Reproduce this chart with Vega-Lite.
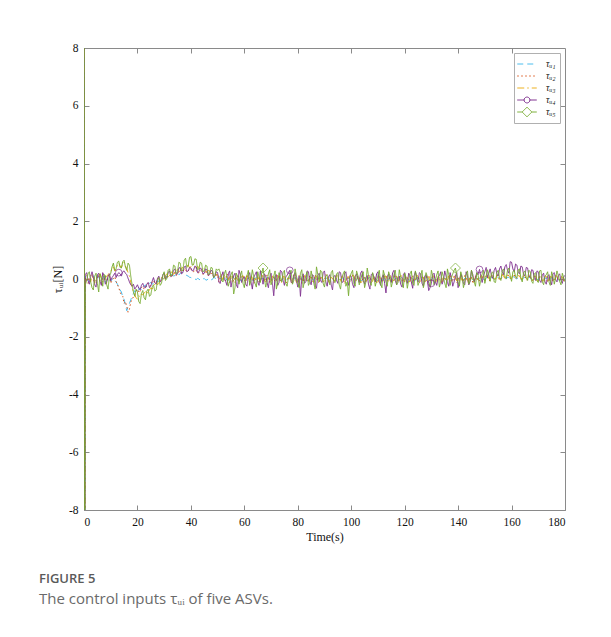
{
  "$schema": "https://vega.github.io/schema/vega-lite/v6.json",
  "width": 481,
  "height": 462,
  "autosize": "none",
  "padding": {"left": 84, "top": 48, "right": 46, "bottom": 127},
  "background": "white",
  "config": {
    "view": {"stroke": "#8a8a8a", "strokeWidth": 1},
    "font": "Liberation Serif",
    "axis": {"labelFont": "Liberation Serif", "titleFont": "Liberation Serif"}
  },
  "title": {
    "text": "FIGURE 5",
    "subtitle": "The control inputs τᵤᵢ of five ASVs.",
    "orient": "bottom",
    "anchor": "start",
    "frame": "group",
    "dx": -45,
    "offset": 30,
    "font": "Open Sans",
    "fontSize": 13,
    "fontWeight": 600,
    "color": "#5a5a5a",
    "subtitleFont": "Open Sans",
    "subtitleFontSize": 15,
    "subtitleColor": "#6a6a6a",
    "subtitlePadding": 6
  },
  "data": {
    "values": [
      {"t":0,"u1":30,"u2":30,"u3":30,"u4":30,"u5":30},
      {"t":0.25,"u1":-15,"u2":-15,"u3":-15,"u4":-15,"u5":-15},
      {"t":0.5,"u1":0.10,"u2":0.05,"u3":-0.12,"u4":0.15,"u5":-0.20},
      {"t":1,"u1":0.05,"u2":-0.08,"u3":0.12,"u4":0.22,"u5":-0.05},
      {"t":1.5,"u1":-0.06,"u2":-0.15,"u3":0.05,"u4":-0.05,"u5":0.18},
      {"t":2,"u1":-0.10,"u2":0.06,"u3":-0.05,"u4":-0.18,"u5":0.25},
      {"t":2.5,"u1":0.02,"u2":0.12,"u3":-0.10,"u4":0.08,"u5":-0.10},
      {"t":3,"u1":0.08,"u2":0.15,"u3":0.10,"u4":0.25,"u5":-0.30},
      {"t":3.5,"u1":0.12,"u2":-0.02,"u3":0.16,"u4":0.05,"u5":-0.38},
      {"t":4,"u1":-0.04,"u2":-0.12,"u3":-0.14,"u4":-0.20,"u5":0.10},
      {"t":4.5,"u1":-0.08,"u2":-0.05,"u3":-0.02,"u4":-0.28,"u5":0.20},
      {"t":5,"u1":0.12,"u2":0.04,"u3":0.06,"u4":0.15,"u5":-0.15},
      {"t":5.5,"u1":0.05,"u2":0.14,"u3":0.12,"u4":0.20,"u5":-0.45},
      {"t":6,"u1":-0.06,"u2":-0.10,"u3":0.18,"u4":-0.08,"u5":0.18},
      {"t":6.5,"u1":-0.02,"u2":-0.16,"u3":0.02,"u4":-0.22,"u5":0.05},
      {"t":7,"u1":0.02,"u2":0.12,"u3":-0.10,"u4":0.22,"u5":-0.25},
      {"t":7.5,"u1":0.10,"u2":0.03,"u3":-0.04,"u4":0.12,"u5":0.15},
      {"t":8,"u1":-0.12,"u2":-0.05,"u3":0.04,"u4":-0.18,"u5":0.12},
      {"t":8.5,"u1":-0.05,"u2":-0.14,"u3":0.10,"u4":-0.10,"u5":-0.20},
      {"t":9,"u1":0.06,"u2":0.08,"u3":0.15,"u4":0.10,"u5":-0.35},
      {"t":9.5,"u1":0.02,"u2":0.16,"u3":0.22,"u4":0.18,"u5":0.10},
      {"t":10,"u1":-0.08,"u2":-0.15,"u3":0.25,"u4":-0.05,"u5":0.20},
      {"t":10.5,"u1":-0.02,"u2":-0.05,"u3":0.35,"u4":0.05,"u5":0.42},
      {"t":11,"u1":0.04,"u2":0.02,"u3":0.42,"u4":0.12,"u5":0.55},
      {"t":11.5,"u1":-0.05,"u2":0.08,"u3":0.28,"u4":0.20,"u5":0.30},
      {"t":12,"u1":-0.10,"u2":-0.08,"u3":0.30,"u4":0.05,"u5":0.35},
      {"t":12.5,"u1":-0.18,"u2":-0.20,"u3":0.48,"u4":0.15,"u5":0.58},
      {"t":13,"u1":-0.25,"u2":-0.30,"u3":0.55,"u4":0.22,"u5":0.62},
      {"t":13.5,"u1":-0.38,"u2":-0.45,"u3":0.45,"u4":0.18,"u5":0.40},
      {"t":14,"u1":-0.45,"u2":-0.55,"u3":0.40,"u4":0.10,"u5":0.38},
      {"t":14.5,"u1":-0.62,"u2":-0.60,"u3":0.52,"u4":0.25,"u5":0.60},
      {"t":15,"u1":-0.70,"u2":-0.85,"u3":0.58,"u4":0.28,"u5":0.65},
      {"t":15.5,"u1":-0.90,"u2":-0.78,"u3":0.45,"u4":0.20,"u5":0.42},
      {"t":16,"u1":-1.10,"u2":-0.95,"u3":0.35,"u4":0.15,"u5":0.30},
      {"t":16.5,"u1":-0.95,"u2":-1.15,"u3":0.22,"u4":0.02,"u5":0.55},
      {"t":17,"u1":-0.85,"u2":-1.05,"u3":0.10,"u4":-0.10,"u5":0.48},
      {"t":17.5,"u1":-0.72,"u2":-0.80,"u3":-0.12,"u4":-0.20,"u5":0.10},
      {"t":18,"u1":-0.60,"u2":-0.70,"u3":-0.30,"u4":-0.25,"u5":-0.20},
      {"t":18.5,"u1":-0.50,"u2":-0.62,"u3":-0.45,"u4":-0.18,"u5":-0.45},
      {"t":19,"u1":-0.40,"u2":-0.55,"u3":-0.55,"u4":-0.35,"u5":-0.60},
      {"t":19.5,"u1":-0.48,"u2":-0.42,"u3":-0.65,"u4":-0.28,"u5":-0.35},
      {"t":20,"u1":-0.45,"u2":-0.35,"u3":-0.70,"u4":-0.20,"u5":-0.45},
      {"t":20.5,"u1":-0.36,"u2":-0.48,"u3":-0.58,"u4":-0.32,"u5":-0.78},
      {"t":21,"u1":-0.30,"u2":-0.42,"u3":-0.62,"u4":-0.38,"u5":-0.85},
      {"t":21.5,"u1":-0.38,"u2":-0.30,"u3":-0.52,"u4":-0.22,"u5":-0.50},
      {"t":22,"u1":-0.35,"u2":-0.25,"u3":-0.55,"u4":-0.15,"u5":-0.40},
      {"t":22.5,"u1":-0.25,"u2":-0.35,"u3":-0.48,"u4":-0.28,"u5":-0.65},
      {"t":23,"u1":-0.20,"u2":-0.30,"u3":-0.45,"u4":-0.30,"u5":-0.72},
      {"t":23.5,"u1":-0.28,"u2":-0.18,"u3":-0.40,"u4":-0.18,"u5":-0.42},
      {"t":24,"u1":-0.25,"u2":-0.15,"u3":-0.50,"u4":-0.12,"u5":-0.35},
      {"t":24.5,"u1":-0.15,"u2":-0.25,"u3":-0.38,"u4":-0.30,"u5":-0.60},
      {"t":25,"u1":-0.12,"u2":-0.22,"u3":-0.30,"u4":-0.25,"u5":-0.55},
      {"t":25.5,"u1":-0.18,"u2":-0.10,"u3":-0.35,"u4":-0.08,"u5":-0.28},
      {"t":26,"u1":-0.15,"u2":-0.05,"u3":-0.25,"u4":0.05,"u5":-0.20},
      {"t":26.5,"u1":-0.08,"u2":-0.15,"u3":-0.18,"u4":-0.12,"u5":-0.42},
      {"t":27,"u1":-0.05,"u2":-0.12,"u3":-0.10,"u4":-0.18,"u5":-0.38},
      {"t":27.5,"u1":-0.10,"u2":0.00,"u3":-0.20,"u4":0.02,"u5":-0.05},
      {"t":28,"u1":-0.08,"u2":0.05,"u3":-0.15,"u4":0.10,"u5":0.05},
      {"t":28.5,"u1":0.00,"u2":-0.06,"u3":-0.02,"u4":-0.10,"u5":-0.22},
      {"t":29,"u1":0.02,"u2":-0.02,"u3":0.05,"u4":-0.05,"u5":-0.15},
      {"t":29.5,"u1":-0.02,"u2":0.08,"u3":-0.04,"u4":0.15,"u5":0.12},
      {"t":30,"u1":0.05,"u2":0.10,"u3":0.02,"u4":0.20,"u5":0.25},
      {"t":30.5,"u1":0.08,"u2":0.02,"u3":0.12,"u4":0.00,"u5":-0.05},
      {"t":31,"u1":0.10,"u2":0.05,"u3":0.18,"u4":0.05,"u5":0.02},
      {"t":31.5,"u1":0.05,"u2":0.12,"u3":0.08,"u4":0.22,"u5":0.30},
      {"t":32,"u1":0.08,"u2":0.15,"u3":0.12,"u4":0.28,"u5":0.35},
      {"t":32.5,"u1":0.14,"u2":0.06,"u3":0.22,"u4":0.08,"u5":0.10},
      {"t":33,"u1":0.15,"u2":0.10,"u3":0.25,"u4":0.12,"u5":0.15},
      {"t":33.5,"u1":0.10,"u2":0.20,"u3":0.16,"u4":0.30,"u5":0.48},
      {"t":34,"u1":0.12,"u2":0.22,"u3":0.20,"u4":0.35,"u5":0.45},
      {"t":34.5,"u1":0.18,"u2":0.12,"u3":0.30,"u4":0.14,"u5":0.18},
      {"t":35,"u1":0.20,"u2":0.18,"u3":0.32,"u4":0.18,"u5":0.25},
      {"t":35.5,"u1":0.15,"u2":0.26,"u3":0.24,"u4":0.38,"u5":0.58},
      {"t":36,"u1":0.18,"u2":0.28,"u3":0.28,"u4":0.40,"u5":0.55},
      {"t":36.5,"u1":0.24,"u2":0.20,"u3":0.38,"u4":0.18,"u5":0.28},
      {"t":37,"u1":0.22,"u2":0.25,"u3":0.40,"u4":0.22,"u5":0.30},
      {"t":37.5,"u1":0.18,"u2":0.34,"u3":0.30,"u4":0.42,"u5":0.65},
      {"t":38,"u1":0.15,"u2":0.32,"u3":0.35,"u4":0.45,"u5":0.72},
      {"t":38.5,"u1":0.12,"u2":0.24,"u3":0.46,"u4":0.25,"u5":0.40},
      {"t":39,"u1":0.10,"u2":0.28,"u3":0.48,"u4":0.28,"u5":0.45},
      {"t":39.5,"u1":0.06,"u2":0.36,"u3":0.38,"u4":0.40,"u5":0.75},
      {"t":40,"u1":0.05,"u2":0.35,"u3":0.42,"u4":0.38,"u5":0.78},
      {"t":40.5,"u1":0.03,"u2":0.26,"u3":0.52,"u4":0.28,"u5":0.48},
      {"t":41,"u1":0.02,"u2":0.25,"u3":0.50,"u4":0.30,"u5":0.50},
      {"t":41.5,"u1":0.00,"u2":0.32,"u3":0.40,"u4":0.45,"u5":0.70},
      {"t":42,"u1":-0.02,"u2":0.30,"u3":0.38,"u4":0.42,"u5":0.68},
      {"t":42.5,"u1":0.02,"u2":0.20,"u3":0.44,"u4":0.22,"u5":0.32},
      {"t":43,"u1":0.00,"u2":0.22,"u3":0.40,"u4":0.25,"u5":0.35},
      {"t":43.5,"u1":-0.04,"u2":0.30,"u3":0.32,"u4":0.38,"u5":0.58},
      {"t":44,"u1":-0.05,"u2":0.28,"u3":0.30,"u4":0.35,"u5":0.55},
      {"t":44.5,"u1":0.00,"u2":0.16,"u3":0.36,"u4":0.18,"u5":0.25},
      {"t":45,"u1":0.02,"u2":0.18,"u3":0.35,"u4":0.20,"u5":0.28},
      {"t":45.5,"u1":-0.03,"u2":0.24,"u3":0.26,"u4":0.35,"u5":0.48},
      {"t":46,"u1":-0.04,"u2":0.22,"u3":0.25,"u4":0.32,"u5":0.45},
      {"t":46.5,"u1":0.02,"u2":0.12,"u3":0.30,"u4":0.12,"u5":0.15},
      {"t":47,"u1":0.00,"u2":0.15,"u3":0.28,"u4":0.15,"u5":0.20},
      {"t":47.5,"u1":-0.03,"u2":0.20,"u3":0.18,"u4":0.30,"u5":0.40},
      {"t":48,"u1":-0.02,"u2":0.18,"u3":0.20,"u4":0.28,"u5":0.38},
      {"t":48.5,"u1":0.05,"u2":0.08,"u3":0.24,"u4":0.05,"u5":0.05},
      {"t":49,"u1":0.04,"u2":0.10,"u3":0.22,"u4":0.10,"u5":0.12},
      {"t":49.5,"u1":0.00,"u2":0.16,"u3":0.12,"u4":0.25,"u5":0.35},
      {"t":50,"u1":0.02,"u2":0.14,"u3":0.15,"u4":0.22,"u5":0.30},
      {"t":50.5,"u1":0.08,"u2":-0.10,"u3":0.05,"u4":-0.12,"u5":0.35},
      {"t":51,"u1":0.05,"u2":0.08,"u3":0.12,"u4":-0.15,"u5":0.22},
      {"t":51.5,"u1":-0.02,"u2":0.15,"u3":-0.06,"u4":0.10,"u5":-0.05},
      {"t":52,"u1":-0.03,"u2":0.12,"u3":0.05,"u4":0.25,"u5":-0.10},
      {"t":52.5,"u1":0.06,"u2":-0.04,"u3":0.14,"u4":0.02,"u5":0.18},
      {"t":53,"u1":0.04,"u2":-0.05,"u3":0.15,"u4":-0.08,"u5":0.30},
      {"t":53.5,"u1":-0.05,"u2":0.18,"u3":-0.02,"u4":-0.22,"u5":0.05},
      {"t":54,"u1":-0.06,"u2":0.10,"u3":-0.04,"u4":0.18,"u5":-0.25},
      {"t":54.5,"u1":0.03,"u2":-0.12,"u3":0.08,"u4":0.28,"u5":-0.08},
      {"t":55,"u1":0.02,"u2":0.02,"u3":0.10,"u4":-0.28,"u5":0.15},
      {"t":55.5,"u1":0.07,"u2":0.10,"u3":-0.10,"u4":-0.05,"u5":0.25},
      {"t":56,"u1":0.05,"u2":-0.08,"u3":-0.08,"u4":0.12,"u5":-0.52},
      {"t":56.5,"u1":-0.02,"u2":-0.15,"u3":0.04,"u4":0.20,"u5":-0.30},
      {"t":57,"u1":-0.04,"u2":0.06,"u3":0.06,"u4":-0.20,"u5":0.20},
      {"t":57.5,"u1":0.04,"u2":0.12,"u3":-0.05,"u4":-0.30,"u5":0.08},
      {"t":58,"u1":0.03,"u2":-0.10,"u3":-0.12,"u4":0.30,"u5":-0.18},
      {"t":58.5,"u1":-0.06,"u2":-0.02,"u3":0.02,"u4":0.15,"u5":0.12},
      {"t":59,"u1":-0.05,"u2":0.05,"u3":0.08,"u4":-0.12,"u5":0.28},
      {"t":59.5,"u1":0.02,"u2":0.14,"u3":0.12,"u4":0.02,"u5":-0.15},
      {"t":60,"u1":0.06,"u2":-0.04,"u3":-0.06,"u4":0.08,"u5":-0.30},
      {"t":60.5,"u1":0.00,"u2":-0.12,"u3":-0.14,"u4":-0.18,"u5":0.05},
      {"t":61,"u1":-0.02,"u2":0.12,"u3":0.12,"u4":-0.25,"u5":0.12},
      {"t":61.5,"u1":0.05,"u2":0.04,"u3":0.04,"u4":0.12,"u5":0.30},
      {"t":62,"u1":0.04,"u2":-0.06,"u3":-0.10,"u4":0.22,"u5":-0.22},
      {"t":62.5,"u1":-0.03,"u2":0.10,"u3":0.06,"u4":-0.10,"u5":-0.05},
      {"t":63,"u1":-0.06,"u2":0.08,"u3":0.05,"u4":-0.35,"u5":0.32},
      {"t":63.5,"u1":0.02,"u2":-0.14,"u3":-0.08,"u4":0.05,"u5":0.10},
      {"t":64,"u1":0.02,"u2":-0.12,"u3":-0.08,"u4":0.15,"u5":-0.15},
      {"t":64.5,"u1":0.06,"u2":0.06,"u3":0.12,"u4":0.25,"u5":-0.28},
      {"t":65,"u1":0.05,"u2":0.04,"u3":0.10,"u4":-0.10,"u5":0.25},
      {"t":65.5,"u1":-0.02,"u2":-0.10,"u3":-0.02,"u4":-0.22,"u5":0.08},
      {"t":66,"u1":-0.04,"u2":-0.08,"u3":-0.05,"u4":0.28,"u5":-0.12},
      {"t":66.5,"u1":0.02,"u2":0.12,"u3":0.06,"u4":0.08,"u5":0.20},
      {"t":67,"u1":0.03,"u2":0.10,"u3":0.08,"u4":-0.18,"u5":0.38},
      {"t":67.5,"u1":-0.04,"u2":-0.06,"u3":-0.06,"u4":0.18,"u5":0.02},
      {"t":68,"u1":-0.05,"u2":-0.04,"u3":-0.10,"u4":0.10,"u5":-0.28},
      {"t":68.5,"u1":0.05,"u2":0.14,"u3":0.04,"u4":-0.12,"u5":-0.10},
      {"t":69,"u1":0.04,"u2":0.06,"u3":0.06,"u4":-0.30,"u5":0.18},
      {"t":69.5,"u1":-0.03,"u2":-0.12,"u3":-0.12,"u4":0.05,"u5":0.32},
      {"t":70,"u1":-0.02,"u2":-0.10,"u3":-0.08,"u4":0.20,"u5":-0.20},
      {"t":70.5,"u1":0.04,"u2":0.08,"u3":0.10,"u4":-0.15,"u5":-0.05},
      {"t":71,"u1":0.06,"u2":0.05,"u3":0.12,"u4":-0.58,"u5":0.10},
      {"t":71.5,"u1":0.00,"u2":-0.10,"u3":-0.02,"u4":0.10,"u5":0.28},
      {"t":72,"u1":-0.04,"u2":-0.06,"u3":-0.04,"u4":0.15,"u5":-0.35},
      {"t":72.5,"u1":0.05,"u2":0.15,"u3":0.06,"u4":-0.22,"u5":-0.12},
      {"t":73,"u1":0.02,"u2":0.12,"u3":0.08,"u4":-0.12,"u5":0.22},
      {"t":73.5,"u1":-0.05,"u2":-0.08,"u3":-0.10,"u4":0.30,"u5":0.05},
      {"t":74,"u1":-0.06,"u2":-0.05,"u3":-0.12,"u4":0.25,"u5":-0.10},
      {"t":74.5,"u1":0.03,"u2":0.10,"u3":0.08,"u4":-0.05,"u5":0.22},
      {"t":75,"u1":0.04,"u2":0.08,"u3":0.05,"u4":-0.22,"u5":0.30},
      {"t":75.5,"u1":-0.02,"u2":-0.14,"u3":-0.05,"u4":0.08,"u5":-0.15},
      {"t":76,"u1":-0.03,"u2":-0.10,"u3":-0.06,"u4":0.12,"u5":-0.25},
      {"t":76.5,"u1":0.06,"u2":0.06,"u3":0.10,"u4":0.22,"u5":0.05},
      {"t":77,"u1":0.05,"u2":0.04,"u3":0.10,"u4":0.30,"u5":0.15},
      {"t":77.5,"u1":-0.03,"u2":-0.12,"u3":-0.06,"u4":-0.10,"u5":0.30},
      {"t":78,"u1":-0.02,"u2":-0.08,"u3":-0.08,"u4":-0.15,"u5":-0.18},
      {"t":78.5,"u1":0.04,"u2":0.14,"u3":0.08,"u4":0.12,"u5":-0.05},
      {"t":79,"u1":0.03,"u2":0.10,"u3":0.04,"u4":0.22,"u5":0.35},
      {"t":79.5,"u1":-0.06,"u2":-0.02,"u3":-0.12,"u4":-0.05,"u5":0.10},
      {"t":80,"u1":-0.05,"u2":-0.04,"u3":-0.10,"u4":-0.28,"u5":-0.12},
      {"t":80.5,"u1":0.05,"u2":0.12,"u3":0.06,"u4":0.10,"u5":-0.30},
      {"t":81,"u1":0.04,"u2":0.06,"u3":0.08,"u4":-0.60,"u5":0.20},
      {"t":81.5,"u1":-0.02,"u2":-0.15,"u3":-0.04,"u4":0.05,"u5":0.32},
      {"t":82,"u1":-0.04,"u2":-0.12,"u3":-0.05,"u4":0.18,"u5":-0.30},
      {"t":82.5,"u1":0.04,"u2":0.08,"u3":0.12,"u4":-0.15,"u5":-0.08},
      {"t":83,"u1":0.02,"u2":0.05,"u3":0.12,"u4":-0.10,"u5":0.12},
      {"t":83.5,"u1":-0.05,"u2":-0.10,"u3":-0.08,"u4":0.28,"u5":0.25},
      {"t":84,"u1":-0.06,"u2":-0.06,"u3":-0.08,"u4":0.25,"u5":-0.22},
      {"t":84.5,"u1":0.06,"u2":0.12,"u3":0.04,"u4":-0.08,"u5":-0.12},
      {"t":85,"u1":0.05,"u2":0.10,"u3":0.06,"u4":-0.20,"u5":0.28},
      {"t":85.5,"u1":-0.02,"u2":-0.04,"u3":-0.10,"u4":0.15,"u5":0.05},
      {"t":86,"u1":-0.03,"u2":-0.08,"u3":-0.04,"u4":0.10,"u5":-0.15},
      {"t":86.5,"u1":0.03,"u2":0.14,"u3":0.08,"u4":-0.22,"u5":-0.35},
      {"t":87,"u1":0.04,"u2":0.04,"u3":0.10,"u4":-0.32,"u5":0.42},
      {"t":87.5,"u1":-0.04,"u2":-0.12,"u3":-0.05,"u4":0.12,"u5":0.15},
      {"t":88,"u1":-0.02,"u2":-0.10,"u3":-0.10,"u4":0.20,"u5":-0.10},
      {"t":88.5,"u1":0.05,"u2":0.06,"u3":0.06,"u4":-0.05,"u5":0.30},
      {"t":89,"u1":0.06,"u2":0.08,"u3":0.05,"u4":-0.12,"u5":0.25},
      {"t":89.5,"u1":-0.04,"u2":-0.10,"u3":-0.08,"u4":0.22,"u5":-0.15},
      {"t":90,"u1":-0.05,"u2":-0.04,"u3":-0.06,"u4":0.28,"u5":-0.28},
      {"t":90.5,"u1":0.02,"u2":0.15,"u3":0.10,"u4":-0.10,"u5":0.10},
      {"t":91,"u1":0.03,"u2":0.12,"u3":0.08,"u4":-0.25,"u5":0.15},
      {"t":91.5,"u1":-0.03,"u2":-0.08,"u3":-0.10,"u4":0.08,"u5":-0.05},
      {"t":92,"u1":-0.04,"u2":-0.06,"u3":-0.12,"u4":0.15,"u5":-0.20},
      {"t":92.5,"u1":0.04,"u2":0.08,"u3":0.04,"u4":-0.20,"u5":0.22},
      {"t":93,"u1":0.02,"u2":0.05,"u3":0.06,"u4":-0.38,"u5":0.30},
      {"t":93.5,"u1":-0.05,"u2":-0.12,"u3":-0.06,"u4":0.10,"u5":-0.08},
      {"t":94,"u1":-0.06,"u2":-0.08,"u3":-0.04,"u4":0.12,"u5":-0.12},
      {"t":94.5,"u1":0.04,"u2":0.12,"u3":0.12,"u4":-0.05,"u5":0.18},
      {"t":95,"u1":0.05,"u2":0.10,"u3":0.10,"u4":-0.15,"u5":0.22},
      {"t":95.5,"u1":-0.02,"u2":-0.06,"u3":-0.04,"u4":0.25,"u5":-0.20},
      {"t":96,"u1":-0.02,"u2":-0.05,"u3":-0.08,"u4":0.22,"u5":-0.35},
      {"t":96.5,"u1":0.03,"u2":0.10,"u3":0.08,"u4":-0.12,"u5":0.05},
      {"t":97,"u1":0.04,"u2":0.06,"u3":0.05,"u4":-0.10,"u5":0.18},
      {"t":97.5,"u1":-0.04,"u2":-0.14,"u3":-0.12,"u4":0.18,"u5":0.28},
      {"t":98,"u1":-0.05,"u2":-0.10,"u3":-0.10,"u4":0.25,"u5":-0.25},
      {"t":98.5,"u1":0.02,"u2":0.08,"u3":0.06,"u4":-0.05,"u5":-0.10},
      {"t":99,"u1":0.03,"u2":0.04,"u3":0.08,"u4":-0.22,"u5":-0.58},
      {"t":99.5,"u1":-0.02,"u2":-0.10,"u3":-0.04,"u4":0.12,"u5":0.05},
      {"t":100,"u1":-0.04,"u2":-0.06,"u3":-0.06,"u4":0.10,"u5":0.20},
      {"t":100.5,"u1":0.05,"u2":0.14,"u3":0.10,"u4":-0.18,"u5":0.30},
      {"t":101,"u1":0.06,"u2":0.12,"u3":0.12,"u4":-0.30,"u5":-0.15},
      {"t":101.5,"u1":0.00,"u2":-0.06,"u3":-0.06,"u4":0.10,"u5":-0.25},
      {"t":102,"u1":-0.02,"u2":-0.04,"u3":-0.05,"u4":0.18,"u5":0.28},
      {"t":102.5,"u1":0.05,"u2":0.10,"u3":0.08,"u4":0.02,"u5":0.12},
      {"t":103,"u1":0.04,"u2":0.08,"u3":0.06,"u4":-0.12,"u5":-0.20},
      {"t":103.5,"u1":-0.05,"u2":-0.12,"u3":-0.12,"u4":0.20,"u5":-0.05},
      {"t":104,"u1":-0.06,"u2":-0.10,"u3":-0.10,"u4":0.28,"u5":0.15},
      {"t":104.5,"u1":0.03,"u2":0.06,"u3":0.04,"u4":-0.05,"u5":0.25},
      {"t":105,"u1":0.02,"u2":0.05,"u3":0.08,"u4":-0.18,"u5":-0.30},
      {"t":105.5,"u1":-0.03,"u2":-0.10,"u3":-0.06,"u4":0.05,"u5":-0.10},
      {"t":106,"u1":-0.04,"u2":-0.06,"u3":-0.04,"u4":0.12,"u5":0.38},
      {"t":106.5,"u1":0.04,"u2":0.12,"u3":0.12,"u4":-0.20,"u5":0.10},
      {"t":107,"u1":0.05,"u2":0.10,"u3":0.10,"u4":-0.35,"u5":-0.12},
      {"t":107.5,"u1":-0.02,"u2":-0.12,"u3":-0.05,"u4":0.15,"u5":-0.22},
      {"t":108,"u1":-0.03,"u2":-0.08,"u3":-0.08,"u4":0.20,"u5":0.22},
      {"t":108.5,"u1":0.05,"u2":0.08,"u3":0.10,"u4":0.05,"u5":0.05},
      {"t":109,"u1":0.04,"u2":0.04,"u3":0.05,"u4":-0.10,"u5":-0.25},
      {"t":109.5,"u1":-0.04,"u2":-0.14,"u3":-0.10,"u4":0.18,"u5":-0.05},
      {"t":110,"u1":-0.05,"u2":-0.10,"u3":-0.12,"u4":0.25,"u5":0.12},
      {"t":110.5,"u1":0.03,"u2":0.10,"u3":0.06,"u4":-0.08,"u5":0.30},
      {"t":111,"u1":0.02,"u2":0.06,"u3":0.06,"u4":-0.22,"u5":-0.18},
      {"t":111.5,"u1":-0.05,"u2":-0.08,"u3":-0.08,"u4":0.05,"u5":-0.30},
      {"t":112,"u1":-0.04,"u2":-0.05,"u3":-0.05,"u4":0.15,"u5":0.30},
      {"t":112.5,"u1":0.04,"u2":0.12,"u3":0.10,"u4":-0.15,"u5":0.12},
      {"t":113,"u1":0.06,"u2":0.12,"u3":0.10,"u4":-0.48,"u5":-0.10},
      {"t":113.5,"u1":0.00,"u2":-0.06,"u3":-0.04,"u4":0.08,"u5":-0.25},
      {"t":114,"u1":-0.02,"u2":-0.06,"u3":-0.08,"u4":0.18,"u5":0.25},
      {"t":114.5,"u1":0.05,"u2":0.12,"u3":0.08,"u4":-0.02,"u5":0.10},
      {"t":115,"u1":0.04,"u2":0.08,"u3":0.04,"u4":-0.12,"u5":-0.28},
      {"t":115.5,"u1":-0.04,"u2":-0.10,"u3":-0.12,"u4":0.22,"u5":-0.08},
      {"t":116,"u1":-0.05,"u2":-0.04,"u3":-0.10,"u4":0.30,"u5":0.15},
      {"t":116.5,"u1":0.02,"u2":0.14,"u3":0.06,"u4":-0.05,"u5":0.30},
      {"t":117,"u1":0.03,"u2":0.10,"u3":0.08,"u4":-0.20,"u5":-0.20},
      {"t":117.5,"u1":-0.05,"u2":-0.06,"u3":-0.04,"u4":0.05,"u5":-0.12},
      {"t":118,"u1":-0.06,"u2":-0.08,"u3":-0.06,"u4":0.10,"u5":0.32},
      {"t":118.5,"u1":0.04,"u2":0.10,"u3":0.10,"u4":-0.18,"u5":0.08},
      {"t":119,"u1":0.05,"u2":0.05,"u3":0.12,"u4":-0.28,"u5":-0.12},
      {"t":119.5,"u1":-0.02,"u2":-0.12,"u3":-0.06,"u4":0.15,"u5":-0.30},
      {"t":120,"u1":-0.02,"u2":-0.10,"u3":-0.05,"u4":0.22,"u5":0.20},
      {"t":120.5,"u1":0.05,"u2":0.08,"u3":0.10,"u4":-0.02,"u5":0.05},
      {"t":121,"u1":0.04,"u2":0.06,"u3":0.06,"u4":-0.15,"u5":-0.32},
      {"t":121.5,"u1":-0.03,"u2":-0.10,"u3":-0.08,"u4":0.20,"u5":-0.05},
      {"t":122,"u1":-0.04,"u2":-0.06,"u3":-0.10,"u4":0.12,"u5":0.18},
      {"t":122.5,"u1":0.03,"u2":0.12,"u3":0.04,"u4":-0.10,"u5":0.28},
      {"t":123,"u1":0.02,"u2":0.10,"u3":0.08,"u4":-0.32,"u5":-0.15},
      {"t":123.5,"u1":-0.05,"u2":-0.08,"u3":-0.04,"u4":0.10,"u5":-0.22},
      {"t":124,"u1":-0.06,"u2":-0.04,"u3":-0.04,"u4":0.25,"u5":0.28},
      {"t":124.5,"u1":0.04,"u2":0.14,"u3":0.12,"u4":0.05,"u5":0.10},
      {"t":125,"u1":0.05,"u2":0.08,"u3":0.10,"u4":-0.10,"u5":-0.22},
      {"t":125.5,"u1":-0.02,"u2":-0.12,"u3":-0.06,"u4":0.22,"u5":-0.08},
      {"t":126,"u1":-0.03,"u2":-0.10,"u3":-0.08,"u4":0.18,"u5":0.12},
      {"t":126.5,"u1":0.05,"u2":0.06,"u3":0.08,"u4":-0.15,"u5":0.30},
      {"t":127,"u1":0.04,"u2":0.05,"u3":0.05,"u4":-0.25,"u5":-0.30},
      {"t":127.5,"u1":-0.04,"u2":-0.14,"u3":-0.10,"u4":0.10,"u5":-0.10},
      {"t":128,"u1":-0.05,"u2":-0.06,"u3":-0.12,"u4":0.15,"u5":0.22},
      {"t":128.5,"u1":0.03,"u2":0.10,"u3":0.06,"u4":-0.05,"u5":0.08},
      {"t":129,"u1":0.02,"u2":0.12,"u3":0.06,"u4":-0.40,"u5":-0.10},
      {"t":129.5,"u1":-0.03,"u2":-0.04,"u3":-0.06,"u4":-0.30,"u5":-0.28},
      {"t":130,"u1":-0.04,"u2":-0.05,"u3":-0.05,"u4":-0.15,"u5":0.30},
      {"t":130.5,"u1":0.05,"u2":0.12,"u3":0.10,"u4":0.15,"u5":0.12},
      {"t":131,"u1":0.06,"u2":0.08,"u3":0.10,"u4":0.20,"u5":-0.20},
      {"t":131.5,"u1":-0.02,"u2":-0.10,"u3":-0.04,"u4":-0.10,"u5":-0.05},
      {"t":132,"u1":-0.02,"u2":-0.08,"u3":-0.08,"u4":-0.22,"u5":0.15},
      {"t":132.5,"u1":0.05,"u2":0.10,"u3":0.10,"u4":0.05,"u5":0.28},
      {"t":133,"u1":0.04,"u2":0.04,"u3":0.04,"u4":0.12,"u5":-0.28},
      {"t":133.5,"u1":-0.04,"u2":-0.12,"u3":-0.10,"u4":0.25,"u5":-0.10},
      {"t":134,"u1":-0.05,"u2":-0.10,"u3":-0.10,"u4":-0.18,"u5":0.25},
      {"t":134.5,"u1":0.02,"u2":0.06,"u3":0.06,"u4":-0.05,"u5":0.08},
      {"t":135,"u1":0.03,"u2":0.06,"u3":0.08,"u4":0.28,"u5":-0.15},
      {"t":135.5,"u1":-0.05,"u2":-0.08,"u3":-0.06,"u4":0.10,"u5":-0.30},
      {"t":136,"u1":-0.06,"u2":-0.04,"u3":-0.06,"u4":-0.12,"u5":0.35},
      {"t":136.5,"u1":0.04,"u2":0.14,"u3":0.10,"u4":-0.25,"u5":0.15},
      {"t":137,"u1":0.05,"u2":0.10,"u3":0.12,"u4":0.22,"u5":-0.22},
      {"t":137.5,"u1":-0.02,"u2":-0.10,"u3":-0.06,"u4":0.05,"u5":0.05},
      {"t":138,"u1":-0.02,"u2":-0.06,"u3":-0.04,"u4":-0.25,"u5":0.18},
      {"t":138.5,"u1":0.05,"u2":0.10,"u3":0.08,"u4":-0.10,"u5":0.30},
      {"t":139,"u1":0.04,"u2":0.08,"u3":0.06,"u4":0.10,"u5":0.38},
      {"t":139.5,"u1":-0.03,"u2":-0.12,"u3":-0.08,"u4":0.22,"u5":0.10},
      {"t":140,"u1":-0.04,"u2":-0.05,"u3":-0.10,"u4":-0.30,"u5":-0.12},
      {"t":140.5,"u1":0.04,"u2":0.10,"u3":0.06,"u4":-0.08,"u5":-0.25},
      {"t":141,"u1":0.02,"u2":0.12,"u3":0.08,"u4":0.18,"u5":0.25},
      {"t":141.5,"u1":-0.04,"u2":-0.04,"u3":-0.06,"u4":0.05,"u5":0.10},
      {"t":142,"u1":-0.06,"u2":-0.08,"u3":-0.05,"u4":-0.15,"u5":-0.30},
      {"t":142.5,"u1":0.03,"u2":0.12,"u3":0.10,"u4":-0.20,"u5":-0.08},
      {"t":143,"u1":0.05,"u2":0.04,"u3":0.10,"u4":0.25,"u5":0.15},
      {"t":143.5,"u1":-0.02,"u2":-0.10,"u3":-0.06,"u4":0.12,"u5":0.28},
      {"t":144,"u1":-0.03,"u2":-0.10,"u3":-0.08,"u4":-0.20,"u5":-0.18},
      {"t":144.5,"u1":0.05,"u2":0.08,"u3":0.06,"u4":-0.08,"u5":-0.05},
      {"t":145,"u1":0.04,"u2":0.06,"u3":0.05,"u4":0.30,"u5":0.30},
      {"t":145.5,"u1":-0.04,"u2":-0.12,"u3":-0.10,"u4":0.15,"u5":0.08},
      {"t":146,"u1":-0.05,"u2":-0.04,"u3":-0.12,"u4":-0.10,"u5":-0.10},
      {"t":146.5,"u1":0.02,"u2":0.10,"u3":0.08,"u4":0.05,"u5":-0.25},
      {"t":147,"u1":0.03,"u2":0.10,"u3":0.06,"u4":0.22,"u5":0.22},
      {"t":147.5,"u1":-0.03,"u2":-0.08,"u3":-0.04,"u4":0.15,"u5":0.12},
      {"t":148,"u1":0.00,"u2":-0.06,"u3":-0.04,"u4":0.33,"u5":-0.25},
      {"t":148.5,"u1":0.06,"u2":0.12,"u3":0.12,"u4":0.10,"u5":-0.05},
      {"t":149,"u1":0.05,"u2":0.08,"u3":0.10,"u4":-0.12,"u5":0.18},
      {"t":149.5,"u1":-0.02,"u2":-0.02,"u3":-0.02,"u4":0.12,"u5":0.30},
      {"t":150,"u1":-0.02,"u2":-0.05,"u3":-0.06,"u4":0.25,"u5":-0.15},
      {"t":150.5,"u1":0.04,"u2":0.12,"u3":0.08,"u4":0.40,"u5":0.10},
      {"t":151,"u1":0.06,"u2":0.10,"u3":0.12,"u4":0.05,"u5":0.32},
      {"t":151.5,"u1":0.00,"u2":-0.06,"u3":0.02,"u4":0.20,"u5":0.15},
      {"t":152,"u1":0.00,"u2":-0.04,"u3":-0.02,"u4":0.35,"u5":-0.08},
      {"t":152.5,"u1":0.06,"u2":0.14,"u3":0.12,"u4":0.12,"u5":0.20},
      {"t":153,"u1":0.05,"u2":0.12,"u3":0.10,"u4":0.02,"u5":0.25},
      {"t":153.5,"u1":-0.02,"u2":0.02,"u3":0.00,"u4":0.30,"u5":-0.10},
      {"t":154,"u1":-0.02,"u2":0.00,"u3":0.00,"u4":0.40,"u5":-0.12},
      {"t":154.5,"u1":0.05,"u2":0.12,"u3":0.12,"u4":0.18,"u5":0.22},
      {"t":155,"u1":0.06,"u2":0.10,"u3":0.14,"u4":0.10,"u5":0.30},
      {"t":155.5,"u1":0.01,"u2":-0.04,"u3":0.00,"u4":0.35,"u5":0.05},
      {"t":156,"u1":0.02,"u2":-0.02,"u3":0.02,"u4":0.45,"u5":-0.05},
      {"t":156.5,"u1":0.07,"u2":0.16,"u3":0.14,"u4":0.25,"u5":0.28},
      {"t":157,"u1":0.08,"u2":0.14,"u3":0.12,"u4":0.15,"u5":0.35},
      {"t":157.5,"u1":0.02,"u2":0.00,"u3":0.02,"u4":0.42,"u5":0.10},
      {"t":158,"u1":0.00,"u2":0.02,"u3":0.04,"u4":0.50,"u5":0.02},
      {"t":158.5,"u1":0.06,"u2":0.14,"u3":0.14,"u4":0.30,"u5":0.30},
      {"t":159,"u1":0.06,"u2":0.12,"u3":0.15,"u4":0.20,"u5":0.38},
      {"t":159.5,"u1":0.01,"u2":0.02,"u3":0.04,"u4":0.60,"u5":0.12},
      {"t":160,"u1":0.02,"u2":0.00,"u3":0.02,"u4":0.58,"u5":-0.08},
      {"t":160.5,"u1":0.07,"u2":0.14,"u3":0.12,"u4":0.35,"u5":0.25},
      {"t":161,"u1":0.08,"u2":0.15,"u3":0.12,"u4":0.25,"u5":0.30},
      {"t":161.5,"u1":0.02,"u2":0.02,"u3":0.04,"u4":0.52,"u5":0.08},
      {"t":162,"u1":0.00,"u2":0.04,"u3":0.05,"u4":0.48,"u5":0.05},
      {"t":162.5,"u1":0.05,"u2":0.12,"u3":0.12,"u4":0.22,"u5":0.32},
      {"t":163,"u1":0.05,"u2":0.10,"u3":0.10,"u4":0.18,"u5":0.35},
      {"t":163.5,"u1":-0.01,"u2":0.00,"u3":0.02,"u4":0.45,"u5":0.02},
      {"t":164,"u1":-0.02,"u2":0.00,"u3":0.00,"u4":0.42,"u5":-0.10},
      {"t":164.5,"u1":0.05,"u2":0.12,"u3":0.12,"u4":0.15,"u5":0.22},
      {"t":165,"u1":0.06,"u2":0.12,"u3":0.12,"u4":0.12,"u5":0.28},
      {"t":165.5,"u1":0.00,"u2":-0.04,"u3":0.00,"u4":0.40,"u5":0.05},
      {"t":166,"u1":0.00,"u2":-0.02,"u3":0.02,"u4":0.38,"u5":-0.05},
      {"t":166.5,"u1":0.05,"u2":0.12,"u3":0.10,"u4":0.10,"u5":0.30},
      {"t":167,"u1":0.05,"u2":0.10,"u3":0.08,"u4":0.05,"u5":0.25},
      {"t":167.5,"u1":-0.02,"u2":-0.06,"u3":-0.04,"u4":0.32,"u5":-0.08},
      {"t":168,"u1":-0.03,"u2":-0.04,"u3":-0.04,"u4":0.30,"u5":-0.15},
      {"t":168.5,"u1":0.04,"u2":0.10,"u3":0.10,"u4":0.02,"u5":0.18},
      {"t":169,"u1":0.04,"u2":0.08,"u3":0.10,"u4":-0.05,"u5":0.22},
      {"t":169.5,"u1":-0.02,"u2":-0.08,"u3":-0.06,"u4":0.28,"u5":-0.05},
      {"t":170,"u1":-0.02,"u2":-0.06,"u3":-0.05,"u4":0.25,"u5":-0.12},
      {"t":170.5,"u1":0.05,"u2":0.12,"u3":0.10,"u4":-0.05,"u5":0.28},
      {"t":171,"u1":0.05,"u2":0.10,"u3":0.08,"u4":-0.12,"u5":0.30},
      {"t":171.5,"u1":-0.03,"u2":-0.08,"u3":-0.06,"u4":0.15,"u5":-0.10},
      {"t":172,"u1":-0.04,"u2":-0.05,"u3":-0.06,"u4":0.20,"u5":-0.20},
      {"t":172.5,"u1":0.03,"u2":0.10,"u3":0.10,"u4":-0.10,"u5":0.10},
      {"t":173,"u1":0.03,"u2":0.06,"u3":0.10,"u4":-0.18,"u5":0.15},
      {"t":173.5,"u1":-0.04,"u2":-0.10,"u3":-0.04,"u4":0.10,"u5":0.25},
      {"t":174,"u1":-0.05,"u2":-0.08,"u3":-0.04,"u4":0.15,"u5":-0.10},
      {"t":174.5,"u1":0.04,"u2":0.08,"u3":0.08,"u4":-0.08,"u5":-0.22},
      {"t":175,"u1":0.04,"u2":0.05,"u3":0.08,"u4":-0.20,"u5":0.25},
      {"t":175.5,"u1":-0.02,"u2":-0.08,"u3":-0.06,"u4":0.18,"u5":0.08},
      {"t":176,"u1":-0.02,"u2":-0.06,"u3":-0.06,"u4":0.22,"u5":-0.18},
      {"t":176.5,"u1":0.05,"u2":0.12,"u3":0.10,"u4":-0.02,"u5":0.05},
      {"t":177,"u1":0.05,"u2":0.10,"u3":0.10,"u4":-0.10,"u5":0.28},
      {"t":177.5,"u1":-0.03,"u2":-0.06,"u3":-0.04,"u4":0.12,"u5":0.12},
      {"t":178,"u1":-0.04,"u2":-0.04,"u3":-0.05,"u4":0.18,"u5":-0.08},
      {"t":178.5,"u1":0.04,"u2":0.08,"u3":0.08,"u4":-0.05,"u5":-0.20},
      {"t":179,"u1":0.03,"u2":0.06,"u3":0.06,"u4":-0.15,"u5":0.20},
      {"t":179.5,"u1":-0.02,"u2":-0.06,"u3":-0.04,"u4":0.08,"u5":0.05},
      {"t":180,"u1":-0.02,"u2":-0.05,"u3":-0.04,"u4":0.12,"u5":-0.10}
    ]
  },
  "transform": [{"fold": ["u1", "u2", "u3", "u4", "u5"], "as": ["series", "value"]}],
  "layer": [
    {
      "mark": {"type": "line", "strokeWidth": 1, "clip": true},
      "encoding": {
        "x": {
          "field": "t", "type": "quantitative",
          "scale": {"domain": [0, 180], "nice": false, "zero": false},
          "axis": {
            "title": "Time(s)", "values": [0, 20, 40, 60, 80, 100, 120, 140, 160, 180],
            "grid": false, "tickSize": -5, "labelPadding": 11,
            "labelFont": "Liberation Serif", "labelFontSize": 11.5, "labelColor": "#111111",
            "titleFont": "Liberation Serif", "titleFontSize": 12, "titleFontWeight": "normal",
            "titleColor": "#111111", "titlePadding": 4,
            "domainColor": "#8a8a8a", "tickColor": "#8a8a8a"
          }
        },
        "y": {
          "field": "value", "type": "quantitative",
          "scale": {"domain": [-8, 8], "nice": false, "zero": false},
          "axis": {
            "title": "τᵤᵢ[N]", "values": [-8, -6, -4, -2, 0, 2, 4, 6, 8],
            "labelExpr": "datum.value < 0 ? '-' + abs(datum.value) : '' + datum.value",
            "grid": false, "tickSize": -5, "labelPadding": 11,
            "labelFont": "Liberation Serif", "labelFontSize": 11.5, "labelColor": "#111111",
            "titleFont": "Liberation Serif", "titleFontSize": 12, "titleFontWeight": "normal",
            "titleColor": "#111111", "titlePadding": 4,
            "domainColor": "#8a8a8a", "tickColor": "#8a8a8a"
          }
        },
        "color": {
          "field": "series", "type": "nominal",
          "scale": {"domain": ["u1", "u2", "u3", "u4", "u5"], "range": ["#4DBEEE", "#D95319", "#EDB120", "#7E2F8E", "#77AC30"]},
          "legend": {
            "title": null, "orient": "top-right", "offset": 5,
            "strokeColor": "#b0b0b0", "fillColor": "white", "padding": 4,
            "symbolSize": 169, "symbolStrokeWidth": 1, "symbolOffset": 2,
            "labelOffset": 12, "rowPadding": 0,
            "labelFont": "Liberation Serif", "labelFontSize": 9.5, "labelFontStyle": "italic", "labelColor": "#111111",
            "labelExpr": "'τ' + ['ᵤ₁','ᵤ₂','ᵤ₃','ᵤ₄','ᵤ₅'][indexof(['u1','u2','u3','u4','u5'], datum.value)]",
            "encode": {
              "symbols": {
                "update": {
                  "shape": {"signal": "datum.value == 'u4' ? 'M-1.5,0H-0.45M0.45,0H1.5M0.45,0A0.45,0.45,0,1,1,-0.45,0A0.45,0.45,0,1,1,0.45,0' : datum.value == 'u5' ? 'M-1.5,0H-0.75M0.75,0H1.5M-0.75,0L0,-0.75L0.75,0L0,0.75Z' : 'M-1.5,0H1.5'"},
                  "fill": {"value": "transparent"}
                }
              }
            }
          }
        },
        "strokeDash": {
          "field": "series", "type": "nominal",
          "scale": {"domain": ["u1", "u2", "u3", "u4", "u5"], "range": [[6, 4], [1.5, 2.5], [7, 3, 1.5, 3], [1, 0], [1, 0]]},
          "legend": {
            "title": null, "orient": "top-right", "offset": 5,
            "strokeColor": "#b0b0b0", "fillColor": "white", "padding": 4,
            "symbolSize": 169, "symbolStrokeWidth": 1, "symbolOffset": 2,
            "labelOffset": 12, "rowPadding": 0,
            "labelFont": "Liberation Serif", "labelFontSize": 9.5, "labelFontStyle": "italic", "labelColor": "#111111",
            "labelExpr": "'τ' + ['ᵤ₁','ᵤ₂','ᵤ₃','ᵤ₄','ᵤ₅'][indexof(['u1','u2','u3','u4','u5'], datum.value)]",
            "encode": {
              "symbols": {
                "update": {
                  "shape": {"signal": "datum.value == 'u4' ? 'M-1.5,0H-0.45M0.45,0H1.5M0.45,0A0.45,0.45,0,1,1,-0.45,0A0.45,0.45,0,1,1,0.45,0' : datum.value == 'u5' ? 'M-1.5,0H-0.75M0.75,0H1.5M-0.75,0L0,-0.75L0.75,0L0,0.75Z' : 'M-1.5,0H1.5'"},
                  "fill": {"value": "transparent"}
                }
              }
            }
          }
        }
      }
    },
    {
      "transform": [{"filter": "datum.series == 'u4' && indexof([13, 77, 130, 148], datum.t) >= 0"}],
      "mark": {"type": "point", "shape": "circle", "filled": false, "size": 45, "strokeWidth": 1, "color": "#7E2F8E"},
      "encoding": {
        "x": {
          "field": "t", "type": "quantitative",
          "scale": {"domain": [0, 180], "nice": false, "zero": false},
          "axis": {"orient": "top", "title": null, "labels": false, "domain": false, "grid": false, "tickSize": -5, "tickColor": "#8a8a8a", "values": [20, 40, 60, 80, 100, 120, 140, 160]}
        },
        "y": {
          "field": "value", "type": "quantitative",
          "scale": {"domain": [-8, 8], "nice": false, "zero": false},
          "axis": {"orient": "right", "title": null, "labels": false, "domain": false, "grid": false, "tickSize": -5, "tickColor": "#8a8a8a", "values": [-6, -4, -2, 0, 2, 4, 6]}
        }
      }
    },
    {
      "transform": [{"filter": "datum.series == 'u5' && indexof([67, 139], datum.t) >= 0"}],
      "mark": {"type": "point", "shape": "diamond", "filled": false, "size": 100, "strokeWidth": 1, "color": "#77AC30"},
      "encoding": {
        "x": {"field": "t", "type": "quantitative", "scale": {"domain": [0, 180], "nice": false, "zero": false}, "axis": null},
        "y": {"field": "value", "type": "quantitative", "scale": {"domain": [-8, 8], "nice": false, "zero": false}, "axis": null}
      }
    }
  ],
  "resolve": {"axis": {"x": "independent", "y": "independent"}}
}
